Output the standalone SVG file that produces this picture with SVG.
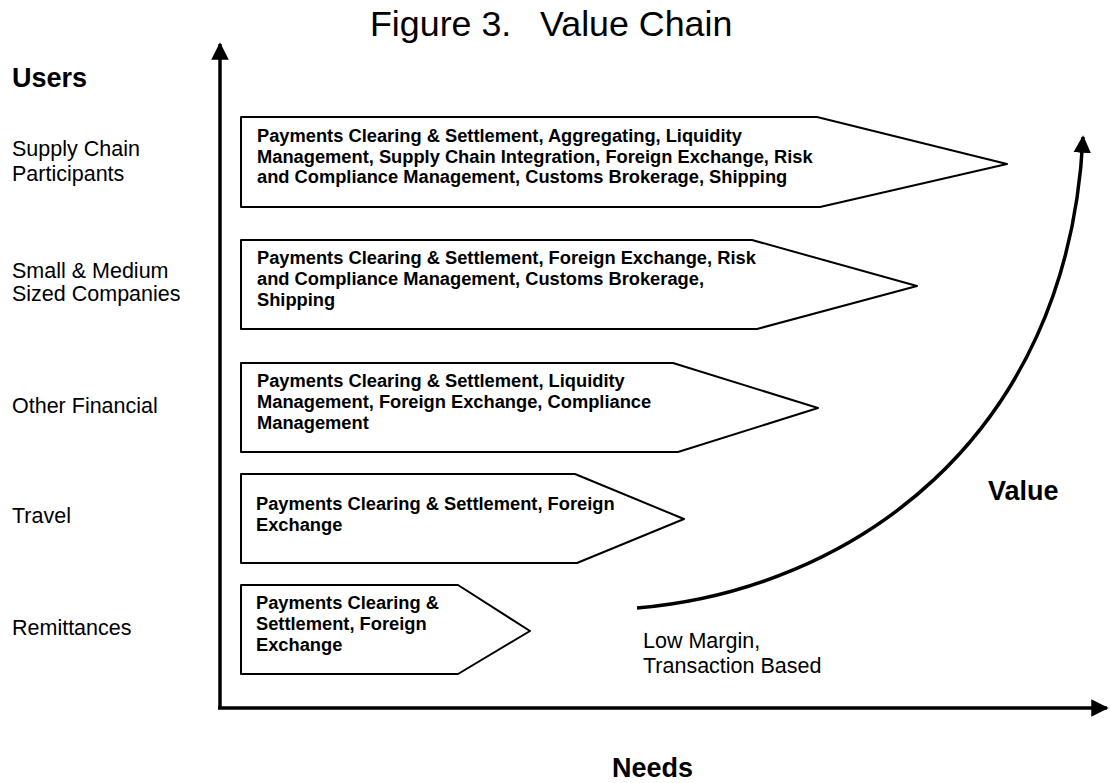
<svg xmlns="http://www.w3.org/2000/svg" width="1111" height="783" viewBox="0 0 1111 783">
<style>
.box{fill:#fff;stroke:#000;stroke-width:2;stroke-linejoin:round}
.bt{font-family:"Liberation Sans",Arial,sans-serif;font-weight:bold;font-size:18.3px;fill:#000}
.lb{font-family:"Liberation Sans",Arial,sans-serif;font-size:21.5px;fill:#000}
.hb{font-family:"Liberation Sans",Arial,sans-serif;font-weight:bold;font-size:27px;fill:#000}
.ttl{font-family:"Liberation Sans",Arial,sans-serif;font-size:35.8px;fill:#000}
.ax{fill:none;stroke:#000;stroke-width:3.5}
</style>
<defs>
<marker id="ah" viewBox="0 0 10 10" refX="9" refY="5" markerWidth="5" markerHeight="5" orient="auto" markerUnits="strokeWidth">
<path d="M0,0 L10,5 L0,10 Z" fill="#000"/>
</marker>
</defs>
<rect width="1111" height="783" fill="#fff"/>
<text class="ttl" y="36"><tspan x="370">Figure 3.</tspan><tspan x="540">Value Chain</tspan></text>

<g id="labels">
<text class="hb" x="12" y="87">Users</text>
<text class="lb" x="12" y="156">Supply Chain</text>
<text class="lb" x="12" y="181">Participants</text>
<text class="lb" x="12" y="278">Small &amp; Medium</text>
<text class="lb" x="12" y="301">Sized Companies</text>
<text class="lb" x="12" y="413">Other Financial</text>
<text class="lb" x="12" y="523">Travel</text>
<text class="lb" x="12" y="635">Remittances</text>
<text class="hb" x="988" y="500">Value</text>
<text class="hb" x="612" y="777">Needs</text>
<text class="lb" x="643" y="648">Low Margin,</text>
<text class="lb" x="643" y="673">Transaction Based</text>
</g>

<g id="connectors">
<path class="ax" d="M220,708 L220,44" marker-end="url(#ah)"/>
<path class="ax" d="M218,708 L1107,708" marker-end="url(#ah)"/>
<path class="ax" d="M637,608 C850,590 1068,440 1083,137" marker-end="url(#ah)"/>
</g>

<g id="box1">
<path class="box" d="M241,117 L817,117 L1007,164 L820,207 L241,207 Z"/>
<text class="bt" x="257" y="142">Payments Clearing &amp; Settlement, Aggregating, Liquidity</text>
<text class="bt" x="257" y="163">Management, Supply Chain Integration, Foreign Exchange, Risk</text>
<text class="bt" x="257" y="183">and Compliance Management, Customs Brokerage, Shipping</text>
</g>
<g id="box2">
<path class="box" d="M241,240 L752,240 L917,286 L757,329 L241,329 Z"/>
<text class="bt" x="257" y="264">Payments Clearing &amp; Settlement, Foreign Exchange, Risk</text>
<text class="bt" x="257" y="285">and Compliance Management, Customs Brokerage,</text>
<text class="bt" x="257" y="306">Shipping</text>
</g>
<g id="box3">
<path class="box" d="M241,363 L673,363 L818,408 L678,452 L241,452 Z"/>
<text class="bt" x="257" y="387">Payments Clearing &amp; Settlement, Liquidity</text>
<text class="bt" x="257" y="408">Management, Foreign Exchange, Compliance</text>
<text class="bt" x="257" y="429">Management</text>
</g>
<g id="box4">
<path class="box" d="M241,474 L575,474 L684,519 L577,563 L241,563 Z"/>
<text class="bt" x="256" y="510">Payments Clearing &amp; Settlement, Foreign</text>
<text class="bt" x="256" y="531">Exchange</text>
</g>
<g id="box5">
<path class="box" d="M241,585 L458,585 L530,631 L458,674 L241,674 Z"/>
<text class="bt" x="256" y="609">Payments Clearing &amp;</text>
<text class="bt" x="256" y="630">Settlement, Foreign</text>
<text class="bt" x="256" y="651">Exchange</text>
</g>
</svg>
